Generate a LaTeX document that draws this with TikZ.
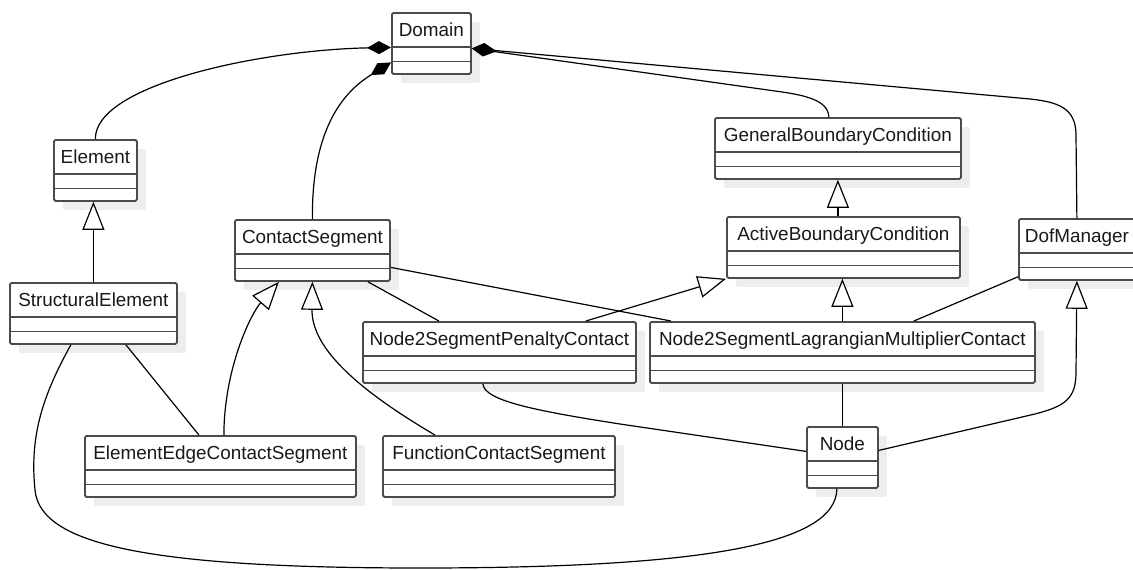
\documentclass[tikz,border=0pt]{standalone}
\usepackage{fontspec}
\setmainfont{Liberation Sans}
\usetikzlibrary{arrows.meta,shadows}
\definecolor{umlgray}{RGB}{75,75,75}

\begin{document}
\begin{tikzpicture}[x=1pt, y=-1pt, line width=1.2pt,
    font=\fontsize{18.9}{22}\selectfont,
    umlclass/.style={draw=umlgray, line width=1.8pt, fill=white, anchor=north west,
      rounded corners=1.5pt, inner xsep=0pt, inner ysep=0pt,
      text height=24pt, text depth=37pt, text=black!90,
      drop shadow={shadow xshift=9pt, shadow yshift=-9pt, fill=black!7, opacity=1},
      path picture={\draw[umlgray, line width=1.8pt]
        ([yshift=-34pt]path picture bounding box.north west) -- ([yshift=-34pt]path picture bounding box.north east)
        ([yshift=-48.5pt]path picture bounding box.north west) -- ([yshift=-48.5pt]path picture bounding box.north east);}},
    comp/.style={-{Diamond[length=24pt, width=13pt]}},
    inherit/.style={-{Triangle[open, length=28pt, width=22pt, fill=white]}}]
  \useasboundingbox (0,0) rectangle (1133,570);

  \node[umlclass, minimum width=79pt] (domain) at (391,12) {Domain};
  \node[umlclass, minimum width=83pt] (element) at (53,139) {Element};
  \node[umlclass, minimum width=167pt] (structel) at (9,282) {StructuralElement};
  \node[umlclass, minimum width=155pt] (contactseg) at (234,219) {ContactSegment};
  \node[umlclass, minimum width=246pt] (genbc) at (714,117) {GeneralBoundaryCondition};
  \node[umlclass, minimum width=233pt] (activebc) at (726,216) {ActiveBoundaryCondition};
  \node[umlclass, minimum width=116pt] (dofmgr) at (1018,218) {DofManager};
  \node[umlclass, minimum width=273pt] (penalty) at (362,321) {Node2SegmentPenaltyContact};
  \node[umlclass, minimum width=385pt] (lagrange) at (649,321) {Node2SegmentLagrangianMultiplierContact};
  \node[umlclass, minimum width=271pt] (edgeseg) at (84,435) {ElementEdgeContactSegment};
  \node[umlclass, minimum width=232pt] (funcseg) at (382,435) {FunctionContactSegment};
  \node[umlclass, minimum width=71pt] (dofnode) at (806,426) {Node};

  \draw[comp] (element.north) .. controls (94.5,85) and (260,50) .. ([yshift=-4pt]domain.west);
  \draw[comp] (contactseg.north) .. controls (311.5,120) and (350,88) .. ([yshift=-19pt]domain.west);
  \draw[comp] ([xshift=-9pt]genbc.north) .. controls (828,100) and (805,95) .. (775,91) -- ([yshift=-5pt]domain.east);
  \draw[comp] (dofmgr.north) -- (1076,135) .. controls (1076,108) and (1058,102) .. (1030,99) -- ([yshift=-5pt]domain.east);

  \draw[inherit] (structel.north) -- (structel.north |- element.south);
  \draw[inherit] ([xshift=3.5pt]edgeseg.north) .. controls (224,370) and (250,315) .. ([xshift=-33.5pt]contactseg.south);
  \draw[inherit] ([xshift=-64pt]funcseg.north) .. controls (350,385) and (311.5,345) .. (contactseg.south);
  \draw[inherit] ([xshift=86.5pt]penalty.north) -- (activebc.south west);
  \draw[inherit] (lagrange.north) -- (lagrange.north |- activebc.south);
  \draw[inherit] (genbc.south |- activebc.north) -- (genbc.south);
  \draw[inherit] ([yshift=7pt]dofnode.east) -- (1035,414) .. controls (1066,406) and (1076,398) .. (1076,372) -- (dofmgr.south);

  \draw ([xshift=32.5pt]structel.south) -- ([xshift=-21.5pt]edgeseg.north);
  \draw ([xshift=-22.5pt]structel.south) .. controls (40,400) and (30,440) .. (35,490)
    .. controls (40,545) and (150,568) .. (420,568) .. controls (700,568) and (836,545) .. ([xshift=-5.5pt]dofnode.south);
  \draw ([xshift=55.5pt]contactseg.south) -- ([xshift=-60.5pt]penalty.north);
  \draw ([yshift=-17pt]contactseg.east) -- ([xshift=-171.5pt]lagrange.north);
  \draw ([xshift=71.5pt]lagrange.north) -- ([yshift=4pt]dofmgr.south west);
  \draw ([xshift=-16.5pt]penalty.south) .. controls (484,400) and (530,410) .. (620,424) -- ([yshift=6pt]dofnode.west);
  \draw (lagrange.south) -- (dofnode.north);
\end{tikzpicture}
\end{document}
